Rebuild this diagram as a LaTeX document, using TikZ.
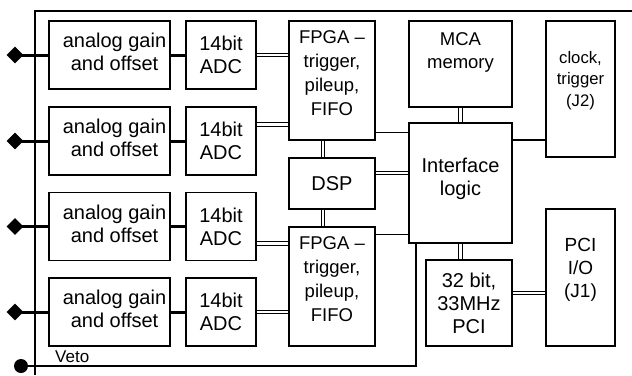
\documentclass[tikz,border=0pt]{standalone}
\usepackage{fontspec}
\setmainfont{Liberation Sans}
\usetikzlibrary{positioning,shapes.geometric}
\tikzset{
  board/.style={line width=2pt},
  txt/.style={inner sep=0pt,align=center,font=\fontsize{20}{23}\selectfont},
  midtxt/.style={inner sep=0pt,align=center,font=\fontsize{18.5}{24}\selectfont},
  blk/.style={draw,line width=1.1pt,txt},
  sig/.style={line width=3pt},
  bus/.style={double,line width=1pt,double distance=2.4pt},
  link/.style={line width=1.1pt},
  pin/.style={diamond,fill=black,inner sep=0pt,minimum width=17pt,minimum height=17pt},
  vetopin/.style={circle,fill=black,inner sep=0pt,minimum size=14pt}
}

\begin{document}
\begin{tikzpicture}[x=1pt,y=-1pt]
  \useasboundingbox (0,0) rectangle (632,375);
  \draw[board] (35,375) -- (35,11) -- (632,11);

  \foreach \i/\y in {1/55,2/141,3/226.5,4/312}{
    \node[pin] (pin\i) at (15,\y) {};
    \node[blk,minimum width=121pt,minimum height=68pt,
      label={[txt,xshift=5pt,yshift=3pt]center:analog gain\\and offset}] (gain\i) at (109.5,\y) {};
    \node[blk,minimum width=70pt,minimum height=68pt] (adc\i) at (221,\y) {14bit\\ADC};
    \draw[sig] (pin\i.center) -- (gain\i);
    \draw[sig] (gain\i) -- (adc\i);
  }

  \node[blk,minimum width=86pt,minimum height=119pt,
    label={[midtxt,yshift=7pt]center:FPGA --\\trigger,\\pileup,\\FIFO}] (fpga1) at (332,80.5) {};
  \node[blk,minimum width=86pt,minimum height=51pt] (dsp) at (332,183.5) {DSP};
  \node[blk,minimum width=86pt,minimum height=119pt,
    label={[midtxt,yshift=7pt]center:FPGA --\\trigger,\\pileup,\\FIFO}] (fpga2) at (332,286.5) {};
  \node[blk,minimum width=103pt,minimum height=86pt,
    label={[midtxt,font=\fontsize{18.5}{23}\selectfont,anchor=north,yshift=-12pt]north:MCA\\memory}] (mca) at (460.5,64) {};
  \node[blk,minimum width=103pt,minimum height=120pt,
    label={[txt,yshift=4pt]center:Interface\\logic}] (iface) at (460.5,183) {};
  \node[blk,minimum width=69pt,minimum height=136pt,
    label={[txt,font=\fontsize{16.7}{21.7}\selectfont,anchor=north,yshift=-30.5pt]north:clock,\\trigger\\(J2)}] (clock) at (580.5,89) {};
  \node[blk,minimum width=86pt,minimum height=86pt] (pci) at (469,303) {32 bit,\\33MHz\\PCI};
  \node[blk,minimum width=69pt,minimum height=137pt,
    label={[txt,font=\fontsize{19}{23}\selectfont,yshift=7.5pt]center:PCI\\I/O\\(J1)}] (pciio) at (580.5,277.5) {};

  \draw[bus] (adc1) -- (adc1 -| fpga1.west);
  \draw[bus] ([yshift=16.5pt]adc2.east) -- ([yshift=16.5pt]adc2.east -| fpga1.west);
  \draw[bus] ([yshift=-17pt]adc3.east) -- ([yshift=-17pt]adc3.east -| fpga2.west);
  \draw[bus] (adc4) -- (adc4 -| fpga2.west);
  \draw[bus] ([xshift=-9pt]fpga1.south) -- ([xshift=-9pt]dsp.north);
  \draw[bus] ([xshift=-9pt]dsp.south) -- ([xshift=-9pt]fpga2.north);
  \draw[bus] ([yshift=10.5pt]dsp.east) -- ([yshift=10.5pt]dsp.east -| iface.west);
  \draw[link] ([yshift=8pt]fpga1.south east) -- ([yshift=8pt]fpga1.south east -| iface.west);
  \draw[link] ([yshift=-8pt]fpga2.north east) -- ([yshift=-8pt]fpga2.north east -| iface.west);
  \draw[bus] (mca) -- (iface);
  \draw[bus] (iface.south) -- (iface.south |- pci.north);
  \draw[link] ([yshift=43pt]iface.east) -- ([yshift=43pt]iface.east -| clock.west);
  \draw[bus] ([yshift=10pt]pci.east) -- ([yshift=10pt]pci.east -| pciio.west);

  \node[vetopin] (vetoin) at (21,366) {};
  \coordinate (vetobend) at (416,366);
  \draw[link] (vetoin.center) -- (vetobend) -- (vetobend |- iface.south);
  \node[inner sep=0pt,anchor=base west,font=\fontsize{17}{20}\selectfont] (vetotxt) at (55,362) {Veto};
\end{tikzpicture}
\end{document}
